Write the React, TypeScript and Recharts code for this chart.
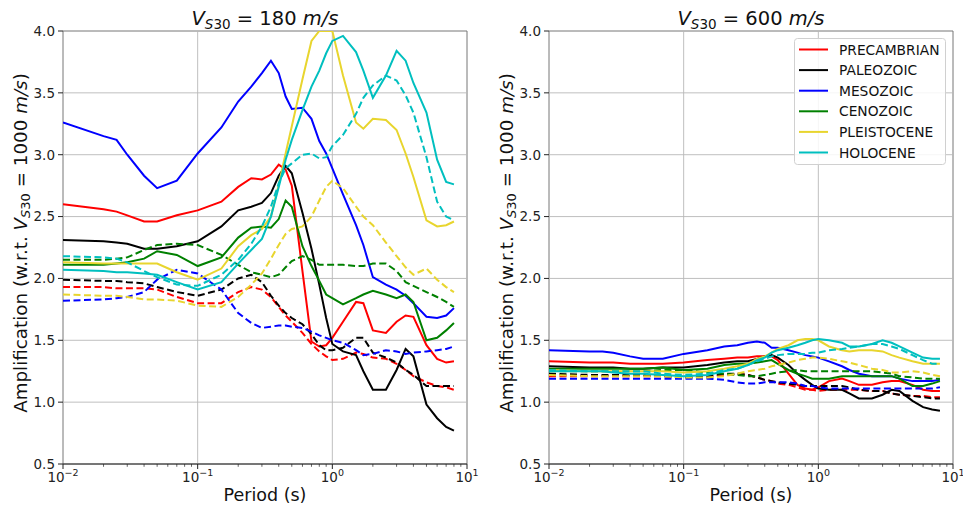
import React from "react";
import { LineChart, Line, XAxis, YAxis, ReferenceLine, ReferenceArea, Legend } from "recharts";

const FONT = "'DejaVu Sans', Verdana, sans-serif";

// periods (s) shared by every curve
const periods = [0.01, 0.02, 0.025, 0.03, 0.04, 0.05, 0.07, 0.1, 0.15, 0.2, 0.25, 0.3, 0.35, 0.4, 0.45, 0.5, 0.6, 0.7, 0.8, 0.9, 1.0, 1.2, 1.5, 1.7, 2.0, 2.5, 3.0, 3.5, 4.0, 5.0, 6.0, 7.0, 8.0];

const units = ["PRECAMBRIAN", "PALEOZOIC", "MESOZOIC", "CENOZOIC", "PLEISTOCENE", "HOLOCENE"];
const colors = ["#ff0000", "#000000", "#0000ff", "#008000", "#e8d52e", "#00bfbf"];

const xTicks = [0.01, 0.02, 0.03, 0.04, 0.05, 0.06, 0.07, 0.08, 0.09, 0.1, 0.2, 0.3, 0.4, 0.5, 0.6, 0.7, 0.8, 0.9, 1, 2, 3, 4, 5, 6, 7, 8, 9, 10];
const yTicks = [0.5, 1.0, 1.5, 2.0, 2.5, 3.0, 3.5, 4.0];
const xGrid = [0.1, 1];
const yGrid = [1.0, 1.5, 2.0, 2.5, 3.0, 3.5];

// Vs30 = 180 m/s, solid
const precambrian180 = [2.60, 2.56, 2.54, 2.51, 2.46, 2.46, 2.51, 2.55, 2.62, 2.74, 2.81, 2.80, 2.84, 2.92, 2.88, 2.75, 2.06, 1.49, 1.45, 1.46, 1.52, 1.65, 1.81, 1.80, 1.58, 1.56, 1.65, 1.70, 1.69, 1.46, 1.35, 1.32, 1.33];
const paleozoic180 = [2.31, 2.30, 2.29, 2.28, 2.24, 2.24, 2.26, 2.30, 2.42, 2.55, 2.58, 2.61, 2.69, 2.83, 2.91, 2.85, 2.53, 2.24, 1.95, 1.68, 1.47, 1.41, 1.38, 1.25, 1.10, 1.10, 1.26, 1.43, 1.37, 0.98, 0.87, 0.80, 0.77];
const mesozoic180 = [3.26, 3.15, 3.12, 3.00, 2.83, 2.73, 2.79, 3.01, 3.22, 3.43, 3.55, 3.66, 3.76, 3.66, 3.47, 3.37, 3.38, 3.29, 3.11, 3.01, 2.89, 2.68, 2.43, 2.27, 2.01, 1.95, 1.91, 1.86, 1.80, 1.69, 1.68, 1.70, 1.76];
const cenozoic180 = [2.11, 2.11, 2.12, 2.13, 2.16, 2.22, 2.19, 2.10, 2.17, 2.33, 2.41, 2.42, 2.41, 2.48, 2.63, 2.58, 2.26, 2.10, 1.98, 1.87, 1.84, 1.79, 1.84, 1.87, 1.90, 1.87, 1.84, 1.87, 1.81, 1.50, 1.52, 1.58, 1.64];
const pleistocene180 = [2.13, 2.12, 2.12, 2.12, 2.12, 2.12, 2.05, 1.99, 2.08, 2.26, 2.35, 2.40, 2.50, 2.76, 3.01, 3.23, 3.61, 3.92, 4.0, 4.0, 4.0, 3.64, 3.26, 3.21, 3.29, 3.28, 3.20, 3.01, 2.82, 2.47, 2.42, 2.43, 2.46];
const holocene180 = [2.07, 2.06, 2.05, 2.05, 2.04, 2.03, 1.97, 1.91, 1.97, 2.12, 2.23, 2.32, 2.50, 2.74, 2.96, 3.12, 3.36, 3.55, 3.68, 3.82, 3.92, 3.96, 3.83, 3.68, 3.46, 3.64, 3.84, 3.76, 3.58, 3.34, 2.96, 2.78, 2.76];

// Vs30 = 180 m/s, dashed
const precambrian180d = [1.93, 1.93, 1.92, 1.92, 1.92, 1.91, 1.85, 1.80, 1.80, 1.89, 1.93, 1.91, 1.85, 1.77, 1.70, 1.65, 1.56, 1.47, 1.41, 1.37, 1.34, 1.35, 1.40, 1.39, 1.36, 1.35, 1.31, 1.26, 1.21, 1.16, 1.13, 1.12, 1.10];
const paleozoic180d = [1.99, 1.98, 1.98, 1.97, 1.96, 1.93, 1.89, 1.86, 1.91, 2.00, 2.03, 1.97, 1.86, 1.78, 1.72, 1.68, 1.63, 1.55, 1.46, 1.42, 1.42, 1.44, 1.52, 1.52, 1.40, 1.36, 1.32, 1.26, 1.22, 1.13, 1.13, 1.13, 1.13];
const mesozoic180d = [1.82, 1.83, 1.84, 1.85, 1.89, 1.99, 2.07, 2.04, 1.91, 1.72, 1.64, 1.60, 1.61, 1.62, 1.62, 1.61, 1.60, 1.57, 1.54, 1.52, 1.50, 1.48, 1.42, 1.38, 1.39, 1.42, 1.41, 1.39, 1.40, 1.41, 1.42, 1.43, 1.45];
const cenozoic180d = [2.15, 2.15, 2.16, 2.17, 2.23, 2.27, 2.28, 2.27, 2.19, 2.11, 2.05, 2.03, 2.01, 2.03, 2.09, 2.14, 2.18, 2.15, 2.11, 2.11, 2.11, 2.11, 2.10, 2.10, 2.12, 2.12, 2.06, 1.97, 1.94, 1.89, 1.85, 1.81, 1.77];
const pleistocene180d = [1.87, 1.86, 1.86, 1.85, 1.83, 1.83, 1.82, 1.78, 1.77, 1.85, 1.95, 2.04, 2.16, 2.27, 2.36, 2.40, 2.42, 2.50, 2.63, 2.74, 2.79, 2.73, 2.58, 2.50, 2.43, 2.29, 2.18, 2.09, 2.03, 2.08, 1.99, 1.93, 1.89];
const holocene180d = [2.18, 2.17, 2.16, 2.13, 2.06, 2.01, 1.95, 1.94, 2.03, 2.15, 2.28, 2.42, 2.58, 2.77, 2.89, 2.93, 3.00, 3.01, 2.97, 2.98, 3.07, 3.16, 3.33, 3.46, 3.56, 3.64, 3.60, 3.48, 3.34, 2.98, 2.62, 2.50, 2.47];

// Vs30 = 600 m/s, solid
const precambrian600 = [1.33, 1.32, 1.32, 1.32, 1.31, 1.31, 1.31, 1.32, 1.34, 1.35, 1.36, 1.36, 1.37, 1.37, 1.37, 1.34, 1.23, 1.14, 1.11, 1.10, 1.12, 1.17, 1.19, 1.17, 1.14, 1.14, 1.16, 1.17, 1.17, 1.14, 1.10, 1.09, 1.09];
const paleozoic600 = [1.29, 1.28, 1.28, 1.28, 1.27, 1.27, 1.28, 1.28, 1.30, 1.32, 1.33, 1.33, 1.35, 1.37, 1.38, 1.36, 1.30, 1.23, 1.18, 1.14, 1.11, 1.10, 1.10, 1.07, 1.03, 1.03, 1.06, 1.10, 1.09, 1.01, 0.96, 0.94, 0.93];
const mesozoic600 = [1.42, 1.41, 1.41, 1.40, 1.37, 1.35, 1.35, 1.39, 1.42, 1.45, 1.46, 1.48, 1.49, 1.48, 1.44, 1.44, 1.42, 1.40, 1.38, 1.37, 1.36, 1.33, 1.29, 1.26, 1.23, 1.21, 1.21, 1.21, 1.19, 1.17, 1.17, 1.17, 1.18];
const cenozoic600 = [1.27, 1.27, 1.27, 1.27, 1.27, 1.27, 1.28, 1.26, 1.27, 1.30, 1.31, 1.31, 1.32, 1.33, 1.34, 1.31, 1.26, 1.23, 1.21, 1.19, 1.19, 1.19, 1.21, 1.21, 1.21, 1.21, 1.21, 1.21, 1.19, 1.13, 1.13, 1.15, 1.17];
const pleistocene600 = [1.26, 1.25, 1.25, 1.25, 1.25, 1.25, 1.25, 1.24, 1.25, 1.27, 1.29, 1.31, 1.35, 1.37, 1.40, 1.43, 1.46, 1.50, 1.51, 1.51, 1.50, 1.45, 1.42, 1.41, 1.42, 1.42, 1.41, 1.38, 1.36, 1.33, 1.31, 1.31, 1.31];
const holocene600 = [1.25, 1.25, 1.25, 1.24, 1.23, 1.23, 1.22, 1.21, 1.22, 1.25, 1.27, 1.30, 1.34, 1.36, 1.40, 1.42, 1.44, 1.46, 1.48, 1.50, 1.51, 1.50, 1.48, 1.45, 1.45, 1.47, 1.50, 1.48, 1.45, 1.40, 1.36, 1.35, 1.35];

// Vs30 = 600 m/s, dashed
const precambrian600d = [1.21, 1.21, 1.21, 1.21, 1.21, 1.21, 1.21, 1.20, 1.20, 1.22, 1.23, 1.22, 1.20, 1.18, 1.17, 1.15, 1.14, 1.12, 1.10, 1.10, 1.09, 1.10, 1.10, 1.10, 1.10, 1.09, 1.09, 1.07, 1.06, 1.05, 1.05, 1.04, 1.04];
const paleozoic600d = [1.23, 1.22, 1.22, 1.22, 1.22, 1.22, 1.21, 1.20, 1.21, 1.23, 1.23, 1.22, 1.20, 1.18, 1.17, 1.16, 1.15, 1.14, 1.13, 1.13, 1.13, 1.13, 1.13, 1.12, 1.10, 1.09, 1.09, 1.07, 1.06, 1.05, 1.04, 1.03, 1.03];
const mesozoic600d = [1.19, 1.19, 1.19, 1.19, 1.19, 1.19, 1.19, 1.19, 1.19, 1.18, 1.16, 1.15, 1.15, 1.16, 1.16, 1.16, 1.16, 1.15, 1.13, 1.13, 1.12, 1.11, 1.11, 1.11, 1.11, 1.11, 1.11, 1.11, 1.11, 1.11, 1.11, 1.11, 1.12];
const cenozoic600d = [1.25, 1.25, 1.25, 1.25, 1.25, 1.25, 1.26, 1.26, 1.24, 1.23, 1.22, 1.21, 1.21, 1.22, 1.23, 1.24, 1.25, 1.26, 1.25, 1.25, 1.25, 1.25, 1.25, 1.25, 1.25, 1.25, 1.24, 1.23, 1.21, 1.20, 1.19, 1.19, 1.19];
const pleistocene600d = [1.22, 1.21, 1.21, 1.21, 1.21, 1.21, 1.21, 1.20, 1.20, 1.21, 1.23, 1.25, 1.26, 1.27, 1.29, 1.30, 1.32, 1.34, 1.35, 1.36, 1.36, 1.35, 1.33, 1.32, 1.30, 1.27, 1.26, 1.24, 1.24, 1.25, 1.24, 1.22, 1.21];
const holocene600d = [1.26, 1.25, 1.25, 1.25, 1.25, 1.25, 1.23, 1.22, 1.23, 1.26, 1.27, 1.30, 1.33, 1.35, 1.37, 1.38, 1.39, 1.39, 1.39, 1.40, 1.40, 1.42, 1.43, 1.44, 1.45, 1.47, 1.47, 1.45, 1.43, 1.38, 1.34, 1.31, 1.31];

function buildRows(solid: number[][], dashed: number[][]) {
  return periods.map((p, i) => {
    const row: Record<string, number> = { period: p };
    units.forEach((u, k) => {
      row[u] = solid[k][i];
      row[u + "_d"] = dashed[k][i];
    });
    return row;
  });
}

const rows180 = buildRows(
  [precambrian180, paleozoic180, mesozoic180, cenozoic180, pleistocene180, holocene180],
  [precambrian180d, paleozoic180d, mesozoic180d, cenozoic180d, pleistocene180d, holocene180d]
);
const rows600 = buildRows(
  [precambrian600, paleozoic600, mesozoic600, cenozoic600, pleistocene600, holocene600],
  [precambrian600d, paleozoic600d, mesozoic600d, cenozoic600d, pleistocene600d, holocene600d]
);

const XTick = (props: any) => {
  const { x, y, payload } = props;
  const lg = Math.log10(payload.value);
  const e = Math.round(lg);
  const major = Math.abs(lg - e) < 1e-6;
  return (
    <g>
      <line x1={x} x2={x} y1={y} y2={y + (major ? 5 : 2.8)} stroke="#222" strokeWidth={major ? 1 : 0.7} />
      {major && (
        <text x={x} y={y + 17.7} textAnchor="middle" fontFamily={FONT} fontSize={13.5} fill="#222">
          10
          <tspan dy={-6} fontSize={9.5}>{e < 0 ? "\u2212" + -e : String(e)}</tspan>
        </text>
      )}
    </g>
  );
};

const YTick = (props: any) => {
  const { x, y, payload } = props;
  return (
    <g>
      <line x1={x - 5} x2={x} y1={y} y2={y} stroke="#222" strokeWidth={1} />
      <text x={x - 8} y={y + 4.8} textAnchor="end" fontFamily={FONT} fontSize={13.5} fill="#222">
        {Number(payload.value).toFixed(1)}
      </text>
    </g>
  );
};

function Texts({ vs }: { vs: number }) {
  return (
    <g fontFamily={FONT} fill="#111">
      <text x={265} y={25} textAnchor="middle" fontSize={19.5}>
        <tspan fontStyle="italic">V</tspan>
        <tspan dy={4} fontSize={13.5} fontStyle="italic">S</tspan>
        <tspan fontSize={13.5}>30</tspan>
        <tspan dy={-4}>{` = ${vs} `}</tspan>
        <tspan fontStyle="italic">m/s</tspan>
      </text>
      <text x={265} y={501} textAnchor="middle" fontSize={17.5}>
        Period (s)
      </text>
      <text transform="translate(26.5,243) rotate(-90)" textAnchor="middle" fontSize={18.3}>
        {"Amplification (w.r.t. "}
        <tspan fontStyle="italic">V</tspan>
        <tspan dy={3.5} fontSize={13} fontStyle="italic">S</tspan>
        <tspan fontSize={13}>30</tspan>
        <tspan dy={-3.5}>{" = 1000 "}</tspan>
        <tspan fontStyle="italic">m/s</tspan>
        <tspan>)</tspan>
      </text>
    </g>
  );
}

function LegendBox() {
  return (
    <svg width={152} height={127} style={{ display: "block" }}>
      <rect x={0.5} y={0.5} width={151} height={126} rx={3} fill="#ffffff" fillOpacity={0.85} stroke="#d0d0d0" />
      {units.map((u, k) => {
        const cy = 11.5 + k * 20.6;
        return (
          <g key={u}>
            <line x1={5} x2={34} y1={cy} y2={cy} stroke={colors[k]} strokeWidth={2} />
            <text x={45} y={cy + 5} fontFamily={FONT} fontSize={13.8} fill="#111">
              {u}
            </text>
          </g>
        );
      })}
    </svg>
  );
}

function Panel({ rows, vs, left, width, right, legend }: any) {
  return (
    <div style={{ position: "absolute", left, top: 0 }}>
      <LineChart width={width} height={509} data={rows} margin={{ top: 31, right, bottom: 20, left: 33 }}>
        <XAxis
          dataKey="period"
          type="number"
          scale="log"
          domain={[0.01, 10]}
          allowDataOverflow
          ticks={xTicks}
          interval={0}
          tick={(p: any) => <XTick {...p} />}
          tickSize={0}
          tickMargin={0}
          tickLine={false}
          axisLine={{ stroke: "#333", strokeWidth: 1 }}
          height={25}
        />
        <YAxis
          type="number"
          domain={[0.5, 4]}
          allowDataOverflow
          ticks={yTicks}
          interval={0}
          tick={(p: any) => <YTick {...p} />}
          tickSize={0}
          tickMargin={0}
          tickLine={false}
          axisLine={false}
          width={30}
        />
        {xGrid.map((v) => (
          <ReferenceLine key={"x" + v} x={v} stroke="#b8b8b8" strokeWidth={0.9} />
        ))}
        {yGrid.map((v) => (
          <ReferenceLine key={"y" + v} y={v} stroke="#b8b8b8" strokeWidth={0.9} />
        ))}
        {units.map((u, k) => [
          <Line
            key={u}
            dataKey={u}
            type="linear"
            stroke={colors[k]}
            strokeWidth={2}
            dot={false}
            activeDot={false}
            isAnimationActive={false}
          />,
          <Line
            key={u + "_d"}
            dataKey={u + "_d"}
            type="linear"
            stroke={colors[k]}
            strokeWidth={2}
            strokeDasharray="7 3.5"
            dot={false}
            activeDot={false}
            legendType="none"
            isAnimationActive={false}
          />,
        ])}
        <ReferenceArea x1={0.01} x2={10} y1={0.5} y2={4} fill="none" stroke="#777" strokeWidth={1} />
        <Texts vs={vs} />
        {legend && (
          <Legend
            layout="vertical"
            align="center"
            verticalAlign="middle"
            wrapperStyle={{ left: 308, top: 38, width: 152, height: 127 }}
            content={() => <LegendBox />}
          />
        )}
      </LineChart>
    </div>
  );
}

export default function App() {
  return (
    <div style={{ position: "absolute", left: 0, top: 0, width: 963, height: 509, background: "#fff" }}>
      <Panel rows={rows180} vs={180} left={0} width={480} right={13} legend={false} />
      <Panel rows={rows600} vs={600} left={486} width={477} right={10} legend={true} />
    </div>
  );
}
